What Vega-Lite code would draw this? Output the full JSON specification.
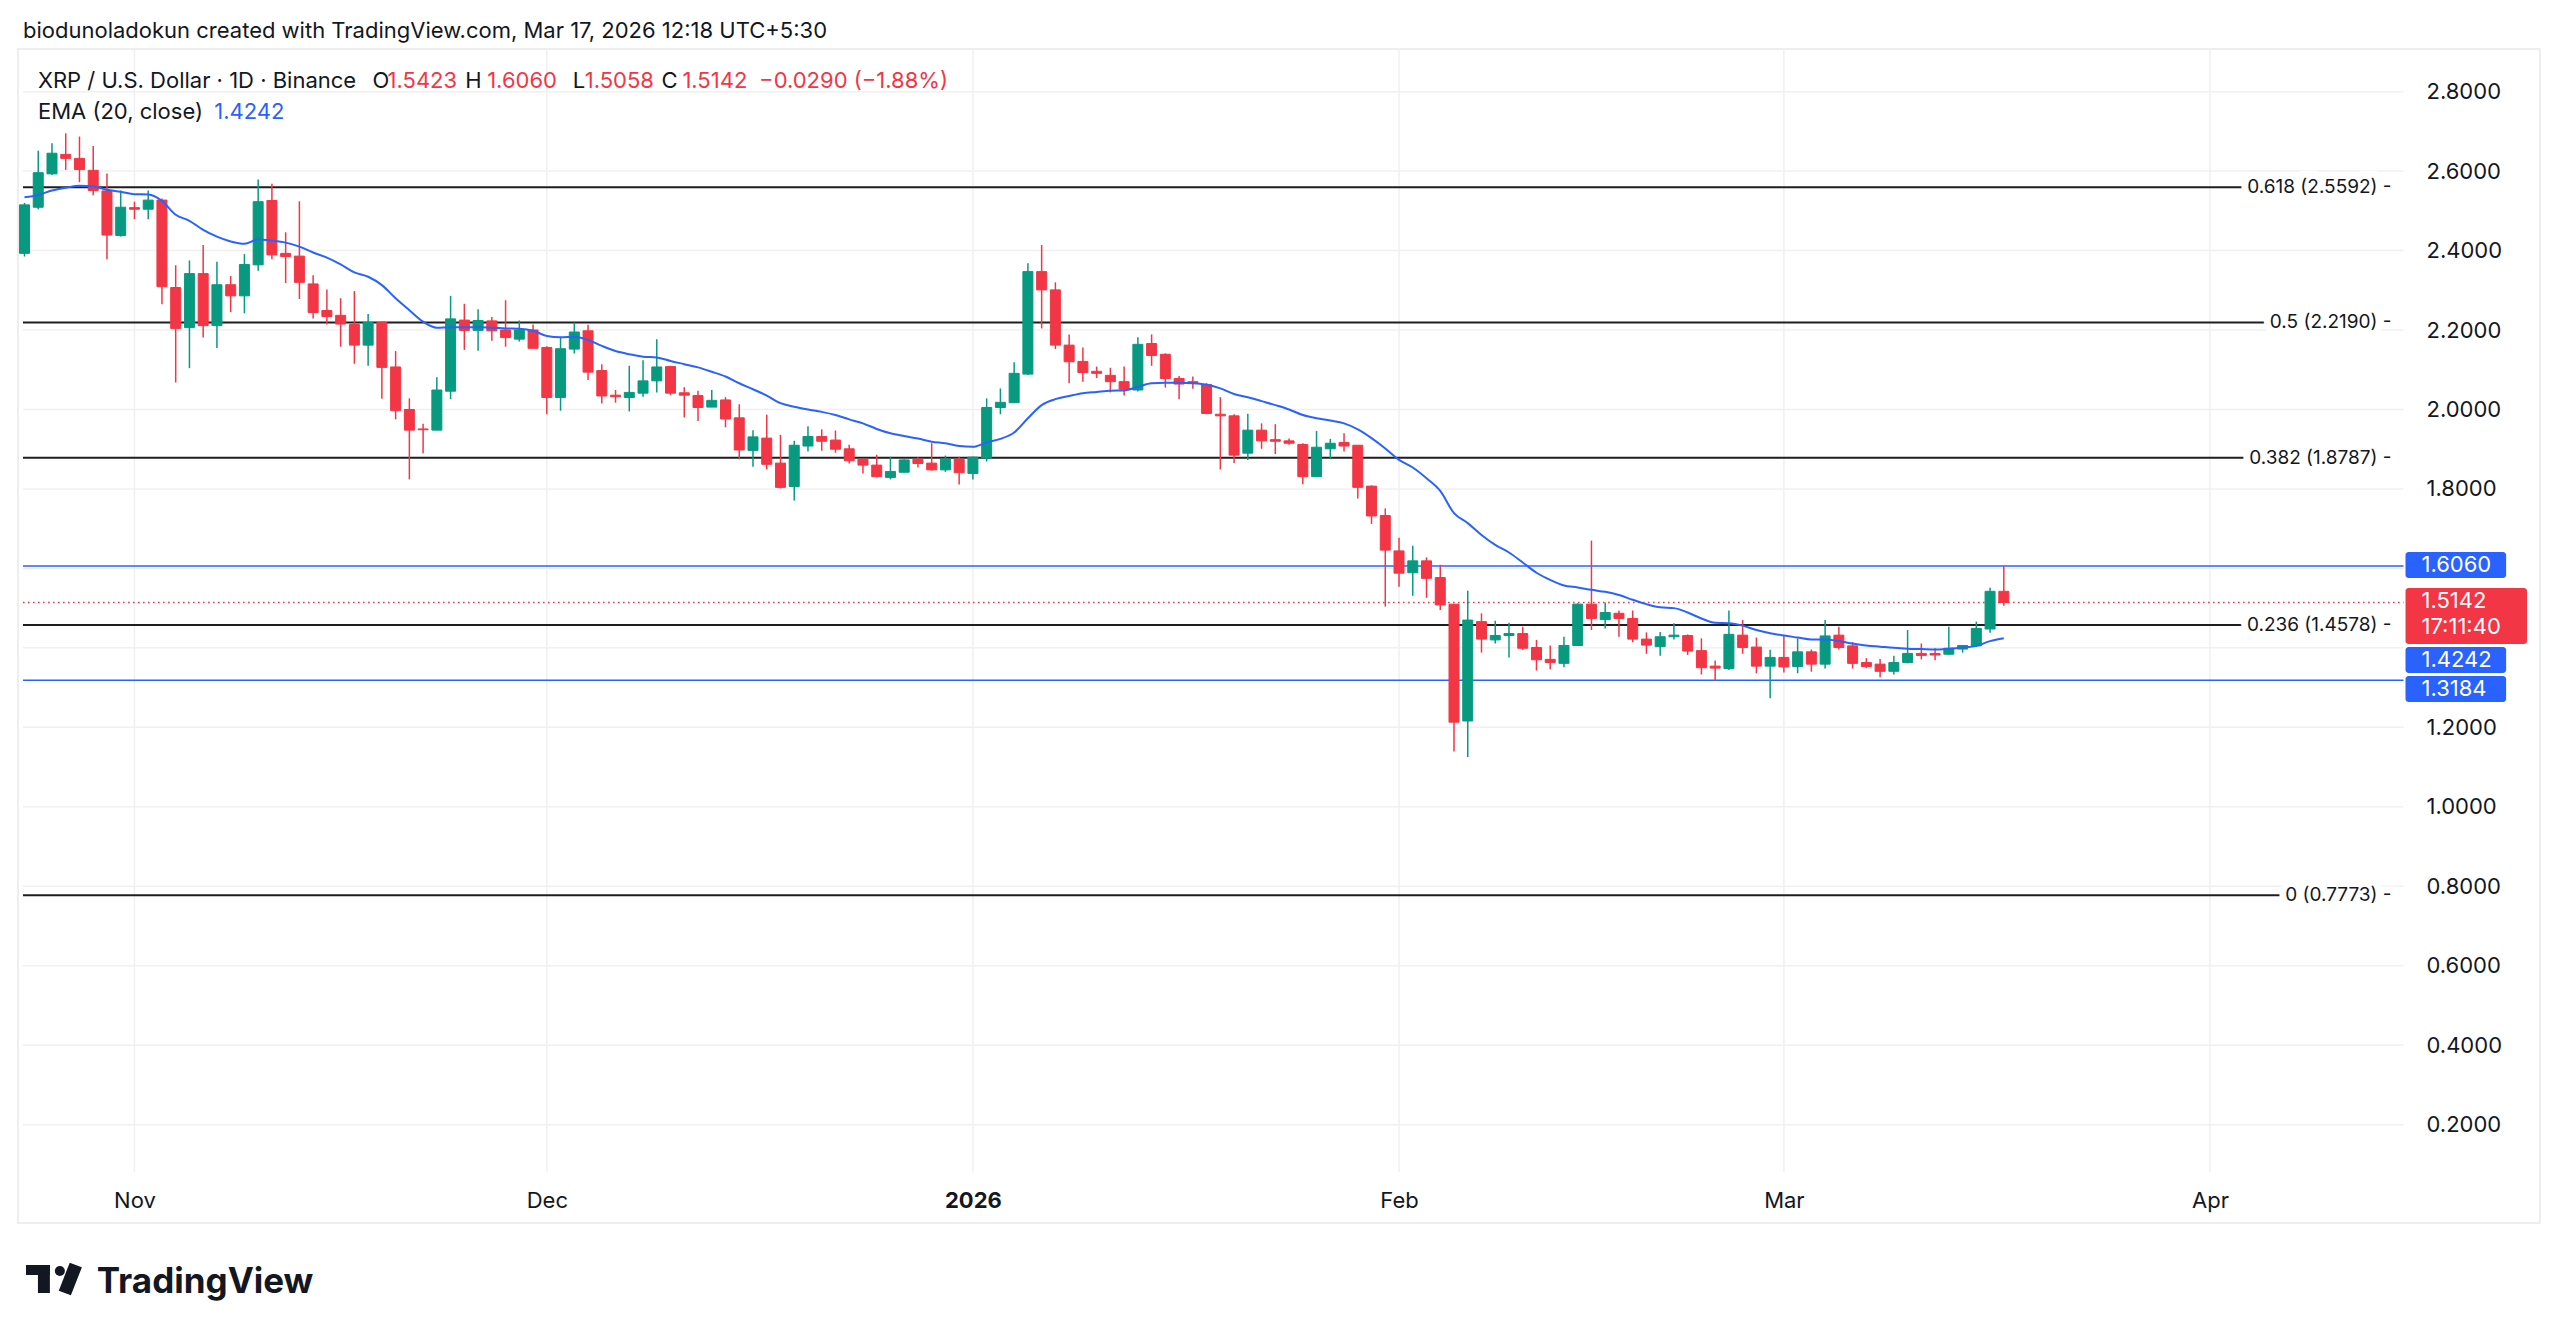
{
"$schema": "https://vega.github.io/schema/vega-lite/v6.json",
"width": 2522, "height": 1174,
"autosize": {"type": "none"},
"padding": {"left": 18, "top": 49, "right": 20, "bottom": 113},
"background": "#ffffff",
"config": {"font": "Inter", "view": {"stroke": "#e9e9e9", "strokeWidth": 1.5}, "axis": {"grid": false, "domain": false, "ticks": false}},
"datasets": {
"candles": [
{"date":"2025-10-24","o":2.393,"h":2.52,"l":2.385,"c":2.515,"ema":2.534},
{"date":"2025-10-25","o":2.509,"h":2.651,"l":2.504,"c":2.596,"ema":2.540},
{"date":"2025-10-26","o":2.593,"h":2.670,"l":2.590,"c":2.645,"ema":2.551},
{"date":"2025-10-27","o":2.642,"h":2.695,"l":2.603,"c":2.632,"ema":2.558},
{"date":"2025-10-28","o":2.632,"h":2.687,"l":2.572,"c":2.604,"ema":2.563},
{"date":"2025-10-29","o":2.602,"h":2.663,"l":2.539,"c":2.551,"ema":2.561},
{"date":"2025-10-30","o":2.550,"h":2.594,"l":2.378,"c":2.439,"ema":2.553},
{"date":"2025-10-31","o":2.438,"h":2.551,"l":2.435,"c":2.509,"ema":2.548},
{"date":"2025-11-01","o":2.508,"h":2.523,"l":2.479,"c":2.504,"ema":2.542},
{"date":"2025-11-02","o":2.504,"h":2.551,"l":2.479,"c":2.527,"ema":2.541},
{"date":"2025-11-03","o":2.527,"h":2.531,"l":2.265,"c":2.309,"ema":2.525},
{"date":"2025-11-04","o":2.307,"h":2.363,"l":2.068,"c":2.204,"ema":2.490},
{"date":"2025-11-05","o":2.206,"h":2.375,"l":2.104,"c":2.342,"ema":2.475},
{"date":"2025-11-06","o":2.342,"h":2.414,"l":2.181,"c":2.211,"ema":2.452},
{"date":"2025-11-07","o":2.211,"h":2.372,"l":2.155,"c":2.314,"ema":2.435},
{"date":"2025-11-08","o":2.314,"h":2.336,"l":2.245,"c":2.286,"ema":2.423},
{"date":"2025-11-09","o":2.286,"h":2.391,"l":2.242,"c":2.365,"ema":2.417},
{"date":"2025-11-10","o":2.364,"h":2.579,"l":2.349,"c":2.523,"ema":2.428},
{"date":"2025-11-11","o":2.526,"h":2.568,"l":2.378,"c":2.389,"ema":2.425},
{"date":"2025-11-12","o":2.393,"h":2.446,"l":2.318,"c":2.385,"ema":2.420},
{"date":"2025-11-13","o":2.386,"h":2.524,"l":2.278,"c":2.320,"ema":2.410},
{"date":"2025-11-14","o":2.316,"h":2.338,"l":2.229,"c":2.244,"ema":2.395},
{"date":"2025-11-15","o":2.249,"h":2.302,"l":2.214,"c":2.234,"ema":2.382},
{"date":"2025-11-16","o":2.237,"h":2.280,"l":2.158,"c":2.215,"ema":2.365},
{"date":"2025-11-17","o":2.214,"h":2.298,"l":2.115,"c":2.162,"ema":2.345},
{"date":"2025-11-18","o":2.162,"h":2.240,"l":2.110,"c":2.219,"ema":2.334},
{"date":"2025-11-19","o":2.219,"h":2.221,"l":2.027,"c":2.106,"ema":2.313},
{"date":"2025-11-20","o":2.107,"h":2.147,"l":1.975,"c":1.997,"ema":2.280},
{"date":"2025-11-21","o":2.000,"h":2.028,"l":1.824,"c":1.948,"ema":2.250},
{"date":"2025-11-22","o":1.951,"h":1.964,"l":1.890,"c":1.949,"ema":2.221},
{"date":"2025-11-23","o":1.948,"h":2.081,"l":1.948,"c":2.049,"ema":2.206},
{"date":"2025-11-24","o":2.046,"h":2.286,"l":2.026,"c":2.228,"ema":2.207},
{"date":"2025-11-25","o":2.225,"h":2.266,"l":2.150,"c":2.199,"ema":2.207},
{"date":"2025-11-26","o":2.199,"h":2.252,"l":2.148,"c":2.224,"ema":2.207},
{"date":"2025-11-27","o":2.223,"h":2.233,"l":2.173,"c":2.198,"ema":2.206},
{"date":"2025-11-28","o":2.200,"h":2.275,"l":2.158,"c":2.181,"ema":2.204},
{"date":"2025-11-29","o":2.177,"h":2.224,"l":2.171,"c":2.200,"ema":2.203},
{"date":"2025-11-30","o":2.200,"h":2.214,"l":2.154,"c":2.154,"ema":2.198},
{"date":"2025-12-01","o":2.156,"h":2.159,"l":1.988,"c":2.030,"ema":2.185},
{"date":"2025-12-02","o":2.030,"h":2.182,"l":1.997,"c":2.153,"ema":2.182},
{"date":"2025-12-03","o":2.152,"h":2.219,"l":2.141,"c":2.195,"ema":2.183},
{"date":"2025-12-04","o":2.198,"h":2.213,"l":2.074,"c":2.094,"ema":2.175},
{"date":"2025-12-05","o":2.098,"h":2.114,"l":2.015,"c":2.034,"ema":2.160},
{"date":"2025-12-06","o":2.036,"h":2.049,"l":2.017,"c":2.032,"ema":2.147},
{"date":"2025-12-07","o":2.030,"h":2.110,"l":1.995,"c":2.043,"ema":2.139},
{"date":"2025-12-08","o":2.041,"h":2.124,"l":2.032,"c":2.072,"ema":2.133},
{"date":"2025-12-09","o":2.072,"h":2.177,"l":2.043,"c":2.107,"ema":2.131},
{"date":"2025-12-10","o":2.108,"h":2.110,"l":2.036,"c":2.041,"ema":2.122},
{"date":"2025-12-11","o":2.042,"h":2.056,"l":1.980,"c":2.036,"ema":2.114},
{"date":"2025-12-12","o":2.035,"h":2.047,"l":1.971,"c":2.005,"ema":2.106},
{"date":"2025-12-13","o":2.006,"h":2.049,"l":2.006,"c":2.023,"ema":2.095},
{"date":"2025-12-14","o":2.024,"h":2.031,"l":1.955,"c":1.976,"ema":2.083},
{"date":"2025-12-15","o":1.979,"h":2.013,"l":1.875,"c":1.898,"ema":2.066},
{"date":"2025-12-16","o":1.897,"h":1.948,"l":1.856,"c":1.931,"ema":2.051},
{"date":"2025-12-17","o":1.928,"h":1.987,"l":1.849,"c":1.862,"ema":2.035},
{"date":"2025-12-18","o":1.865,"h":1.936,"l":1.801,"c":1.804,"ema":2.016},
{"date":"2025-12-19","o":1.806,"h":1.921,"l":1.771,"c":1.910,"ema":2.007},
{"date":"2025-12-20","o":1.908,"h":1.958,"l":1.894,"c":1.932,"ema":2.000},
{"date":"2025-12-21","o":1.932,"h":1.950,"l":1.896,"c":1.920,"ema":1.994},
{"date":"2025-12-22","o":1.923,"h":1.947,"l":1.891,"c":1.900,"ema":1.986},
{"date":"2025-12-23","o":1.901,"h":1.911,"l":1.864,"c":1.871,"ema":1.975},
{"date":"2025-12-24","o":1.875,"h":1.876,"l":1.839,"c":1.860,"ema":1.965},
{"date":"2025-12-25","o":1.860,"h":1.886,"l":1.829,"c":1.831,"ema":1.951},
{"date":"2025-12-26","o":1.829,"h":1.881,"l":1.824,"c":1.844,"ema":1.940},
{"date":"2025-12-27","o":1.842,"h":1.875,"l":1.842,"c":1.873,"ema":1.933},
{"date":"2025-12-28","o":1.875,"h":1.880,"l":1.854,"c":1.864,"ema":1.927},
{"date":"2025-12-29","o":1.865,"h":1.915,"l":1.846,"c":1.848,"ema":1.919},
{"date":"2025-12-30","o":1.848,"h":1.884,"l":1.843,"c":1.875,"ema":1.915},
{"date":"2025-12-31","o":1.875,"h":1.881,"l":1.811,"c":1.841,"ema":1.908},
{"date":"2026-01-01","o":1.839,"h":1.881,"l":1.824,"c":1.880,"ema":1.906},
{"date":"2026-01-02","o":1.878,"h":2.028,"l":1.869,"c":2.005,"ema":1.917},
{"date":"2026-01-03","o":2.005,"h":2.053,"l":1.988,"c":2.018,"ema":1.926},
{"date":"2026-01-04","o":2.017,"h":2.119,"l":2.017,"c":2.091,"ema":1.942},
{"date":"2026-01-05","o":2.089,"h":2.368,"l":2.087,"c":2.347,"ema":1.978},
{"date":"2026-01-06","o":2.347,"h":2.414,"l":2.204,"c":2.301,"ema":2.011},
{"date":"2026-01-07","o":2.301,"h":2.320,"l":2.152,"c":2.162,"ema":2.026},
{"date":"2026-01-08","o":2.162,"h":2.189,"l":2.066,"c":2.120,"ema":2.034},
{"date":"2026-01-09","o":2.121,"h":2.156,"l":2.070,"c":2.093,"ema":2.041},
{"date":"2026-01-10","o":2.096,"h":2.108,"l":2.079,"c":2.091,"ema":2.044},
{"date":"2026-01-11","o":2.086,"h":2.105,"l":2.043,"c":2.070,"ema":2.047},
{"date":"2026-01-12","o":2.070,"h":2.108,"l":2.035,"c":2.051,"ema":2.048},
{"date":"2026-01-13","o":2.049,"h":2.182,"l":2.045,"c":2.164,"ema":2.057},
{"date":"2026-01-14","o":2.166,"h":2.189,"l":2.110,"c":2.136,"ema":2.066},
{"date":"2026-01-15","o":2.139,"h":2.141,"l":2.055,"c":2.078,"ema":2.067},
{"date":"2026-01-16","o":2.078,"h":2.084,"l":2.026,"c":2.064,"ema":2.067},
{"date":"2026-01-17","o":2.070,"h":2.083,"l":2.052,"c":2.066,"ema":2.066},
{"date":"2026-01-18","o":2.063,"h":2.066,"l":1.988,"c":1.990,"ema":2.062},
{"date":"2026-01-19","o":1.988,"h":2.031,"l":1.849,"c":1.984,"ema":2.053},
{"date":"2026-01-20","o":1.984,"h":1.988,"l":1.865,"c":1.885,"ema":2.039},
{"date":"2026-01-21","o":1.890,"h":1.989,"l":1.873,"c":1.948,"ema":2.031},
{"date":"2026-01-22","o":1.948,"h":1.965,"l":1.901,"c":1.921,"ema":2.021},
{"date":"2026-01-23","o":1.924,"h":1.963,"l":1.888,"c":1.920,"ema":2.011},
{"date":"2026-01-24","o":1.921,"h":1.927,"l":1.911,"c":1.915,"ema":2.000},
{"date":"2026-01-25","o":1.912,"h":1.915,"l":1.812,"c":1.831,"ema":1.986},
{"date":"2026-01-26","o":1.831,"h":1.946,"l":1.831,"c":1.905,"ema":1.978},
{"date":"2026-01-27","o":1.901,"h":1.926,"l":1.875,"c":1.915,"ema":1.972},
{"date":"2026-01-28","o":1.917,"h":1.940,"l":1.894,"c":1.908,"ema":1.965},
{"date":"2026-01-29","o":1.910,"h":1.910,"l":1.776,"c":1.804,"ema":1.950},
{"date":"2026-01-30","o":1.807,"h":1.809,"l":1.712,"c":1.732,"ema":1.928},
{"date":"2026-01-31","o":1.733,"h":1.751,"l":1.504,"c":1.646,"ema":1.902},
{"date":"2026-02-01","o":1.644,"h":1.677,"l":1.554,"c":1.588,"ema":1.873},
{"date":"2026-02-02","o":1.589,"h":1.657,"l":1.531,"c":1.619,"ema":1.854},
{"date":"2026-02-03","o":1.619,"h":1.628,"l":1.526,"c":1.575,"ema":1.827},
{"date":"2026-02-04","o":1.577,"h":1.609,"l":1.495,"c":1.508,"ema":1.795},
{"date":"2026-02-05","o":1.510,"h":1.510,"l":1.139,"c":1.213,"ema":1.739},
{"date":"2026-02-06","o":1.216,"h":1.544,"l":1.125,"c":1.470,"ema":1.714},
{"date":"2026-02-07","o":1.466,"h":1.487,"l":1.388,"c":1.422,"ema":1.684},
{"date":"2026-02-08","o":1.420,"h":1.468,"l":1.411,"c":1.431,"ema":1.659},
{"date":"2026-02-09","o":1.431,"h":1.463,"l":1.376,"c":1.436,"ema":1.640},
{"date":"2026-02-10","o":1.436,"h":1.453,"l":1.395,"c":1.399,"ema":1.615},
{"date":"2026-02-11","o":1.401,"h":1.420,"l":1.343,"c":1.370,"ema":1.589},
{"date":"2026-02-12","o":1.371,"h":1.406,"l":1.346,"c":1.363,"ema":1.571},
{"date":"2026-02-13","o":1.361,"h":1.428,"l":1.351,"c":1.406,"ema":1.557},
{"date":"2026-02-14","o":1.406,"h":1.512,"l":1.405,"c":1.510,"ema":1.552},
{"date":"2026-02-15","o":1.510,"h":1.670,"l":1.445,"c":1.474,"ema":1.546},
{"date":"2026-02-16","o":1.471,"h":1.514,"l":1.449,"c":1.489,"ema":1.541},
{"date":"2026-02-17","o":1.487,"h":1.494,"l":1.428,"c":1.474,"ema":1.533},
{"date":"2026-02-18","o":1.474,"h":1.494,"l":1.414,"c":1.422,"ema":1.521},
{"date":"2026-02-19","o":1.422,"h":1.439,"l":1.385,"c":1.407,"ema":1.510},
{"date":"2026-02-20","o":1.403,"h":1.440,"l":1.380,"c":1.428,"ema":1.502},
{"date":"2026-02-21","o":1.428,"h":1.462,"l":1.421,"c":1.432,"ema":1.500},
{"date":"2026-02-22","o":1.431,"h":1.434,"l":1.382,"c":1.392,"ema":1.489},
{"date":"2026-02-23","o":1.393,"h":1.424,"l":1.333,"c":1.350,"ema":1.474},
{"date":"2026-02-24","o":1.354,"h":1.368,"l":1.318,"c":1.349,"ema":1.463},
{"date":"2026-02-25","o":1.348,"h":1.494,"l":1.344,"c":1.434,"ema":1.462},
{"date":"2026-02-26","o":1.432,"h":1.470,"l":1.385,"c":1.401,"ema":1.456},
{"date":"2026-02-27","o":1.402,"h":1.426,"l":1.336,"c":1.354,"ema":1.445},
{"date":"2026-02-28","o":1.354,"h":1.395,"l":1.273,"c":1.376,"ema":1.437},
{"date":"2026-03-01","o":1.376,"h":1.432,"l":1.338,"c":1.352,"ema":1.431},
{"date":"2026-03-02","o":1.353,"h":1.424,"l":1.336,"c":1.390,"ema":1.426},
{"date":"2026-03-03","o":1.390,"h":1.396,"l":1.340,"c":1.359,"ema":1.421},
{"date":"2026-03-04","o":1.359,"h":1.470,"l":1.348,"c":1.430,"ema":1.421},
{"date":"2026-03-05","o":1.432,"h":1.453,"l":1.396,"c":1.401,"ema":1.417},
{"date":"2026-03-06","o":1.405,"h":1.414,"l":1.348,"c":1.361,"ema":1.411},
{"date":"2026-03-07","o":1.363,"h":1.374,"l":1.349,"c":1.353,"ema":1.406},
{"date":"2026-03-08","o":1.359,"h":1.372,"l":1.326,"c":1.341,"ema":1.403},
{"date":"2026-03-09","o":1.341,"h":1.380,"l":1.333,"c":1.363,"ema":1.400},
{"date":"2026-03-10","o":1.363,"h":1.445,"l":1.361,"c":1.386,"ema":1.398},
{"date":"2026-03-11","o":1.386,"h":1.411,"l":1.371,"c":1.381,"ema":1.397},
{"date":"2026-03-12","o":1.386,"h":1.399,"l":1.369,"c":1.382,"ema":1.396},
{"date":"2026-03-13","o":1.384,"h":1.453,"l":1.382,"c":1.399,"ema":1.398},
{"date":"2026-03-14","o":1.397,"h":1.406,"l":1.388,"c":1.406,"ema":1.401},
{"date":"2026-03-15","o":1.405,"h":1.466,"l":1.403,"c":1.449,"ema":1.405},
{"date":"2026-03-16","o":1.4475,"h":1.551,"l":1.438,"c":1.5423,"ema":1.417},
{"date":"2026-03-17","o":1.5423,"h":1.6060,"l":1.5058,"c":1.5142,"ema":1.4242}
],
"hgrid": [{"v":0.2},{"v":0.4},{"v":0.6},{"v":0.8},{"v":1.0},{"v":1.2},{"v":1.4},{"v":1.6},{"v":1.8},{"v":2.0},{"v":2.2},{"v":2.4},{"v":2.6},{"v":2.8}],
"vgrid": [{"d":"2025-11-01"},{"d":"2025-12-01"},{"d":"2026-01-01"},{"d":"2026-02-01"},{"d":"2026-03-01"},{"d":"2026-04-01"}],
"fib": [{"price":2.5592,"label":"0.618 (2.5592) -"},{"price":2.219,"label":"0.5 (2.2190) -"},{"price":1.8787,"label":"0.382 (1.8787) -"},{"price":1.4578,"label":"0.236 (1.4578) -"},{"price":0.7773,"label":"0 (0.7773) -"}],
"hlines": [{"price":1.606},{"price":1.3184}],
"last": [{"price":1.5142}],
"one": [{}]
},
"layer": [
{"data": {"name": "vgrid"}, "mark": {"type": "rule", "color": "#f0f0f0", "strokeWidth": 1.5},
 "encoding": {
  "x": {"field": "d", "type": "temporal", "title": null, "scale": {"type": "utc", "domain": [1761254608696, 1777044521739]},
   "axis": {"orient": "bottom", "values": [{"year":2025,"month":"nov","date":1,"utc":true},{"year":2025,"month":"dec","date":1,"utc":true},{"year":2026,"month":"jan","date":1,"utc":true},{"year":2026,"month":"feb","date":1,"utc":true},{"year":2026,"month":"mar","date":1,"utc":true},{"year":2026,"month":"apr","date":1,"utc":true}],
    "labelExpr": "utcmonth(datum.value) == 0 ? utcFormat(datum.value, '%Y') : utcFormat(datum.value, '%b')",
    "labelFontWeight": {"condition": {"test": "utcmonth(datum.value) == 0", "value": "bold"}, "value": "normal"},
    "labelFontSize": 22, "labelColor": "#131722", "labelFont": "Inter", "labelBaseline": "middle", "labelPadding": -23, "labelOverlap": false, "labelFlush": false, "grid": false, "ticks": false, "domain": false}},
  "y": {"datum": 0.0808, "type": "quantitative"},
  "y2": {"datum": 2.9073}
 }},
{"data": {"name": "hgrid"}, "mark": {"type": "rule", "color": "#f0f0f0", "strokeWidth": 1.5},
 "encoding": {
  "y": {"field": "v", "type": "quantitative", "title": null, "scale": {"domain": [-0.0476, 2.9073], "nice": false, "zero": false},
   "axis": {"orient": "right", "values": [0.2,0.4,0.6,0.8,1.0,1.2,1.8,2.0,2.2,2.4,2.6,2.8], "format": ".4f", "labelFontSize": 22, "labelColor": "#131722", "labelFont": "Inter", "labelAlign": "left", "labelBaseline": "middle", "labelPadding": -114, "grid": false, "ticks": false, "domain": false, "labelOverlap": false, "labelFlush": false}},
  "x": {"datum": 1761254608696, "type": "temporal"},
  "x2": {"datum": 1776218086956}
 }},
{"data": {"name": "fib"}, "mark": {"type": "rule", "color": "#1e1e1e", "strokeWidth": 2},
 "encoding": {"y": {"field": "price", "type": "quantitative", "title": null}, "x": {"datum": 1761254608696, "type": "temporal"}, "x2": {"datum": 1776168000000}}},
{"data": {"name": "hlines"}, "mark": {"type": "rule", "color": "#2962FF", "strokeWidth": 1.6},
 "encoding": {"y": {"field": "price", "type": "quantitative", "title": null}, "x": {"datum": 1761254608696, "type": "temporal"}, "x2": {"datum": 1776218086956}}},
{"data": {"name": "last"}, "mark": {"type": "rule", "color": "#F23645", "strokeWidth": 1.6, "strokeDash": [1.6, 3.4]},
 "encoding": {"y": {"field": "price", "type": "quantitative", "title": null}, "x": {"datum": 1761254608696, "type": "temporal"}, "x2": {"datum": 1776218086956}}},
{"data": {"name": "candles"}, "mark": {"type": "rule", "strokeWidth": 1.5, "clip": true},
 "encoding": {
  "x": {"field": "date", "type": "temporal", "title": null},
  "y": {"field": "l", "type": "quantitative", "title": null},
  "y2": {"field": "h"},
  "color": {"condition": {"test": "datum.c >= datum.o", "value": "#089981"}, "value": "#F23645"}
 }},
{"data": {"name": "candles"}, "mark": {"type": "bar", "width": 10, "strokeWidth": 1, "clip": true},
 "encoding": {
  "x": {"field": "date", "type": "temporal", "title": null},
  "y": {"field": "o", "type": "quantitative", "title": null},
  "y2": {"field": "c"},
  "fill": {"condition": {"test": "datum.c >= datum.o", "value": "#089981"}, "value": "#F23645"},
  "stroke": {"condition": {"test": "datum.c >= datum.o", "value": "#089981"}, "value": "#F23645"}
 }},
{"data": {"name": "candles"}, "mark": {"type": "line", "color": "#2962FF", "strokeWidth": 2, "clip": true, "interpolate": "monotone"},
 "encoding": {
  "x": {"field": "date", "type": "temporal", "title": null},
  "y": {"field": "ema", "type": "quantitative", "title": null}
 }},
{"data": {"name": "fib"}, "mark": {"type": "text", "align": "right", "baseline": "middle", "fontSize": 19, "font": "Inter", "fill": "#ffffff", "stroke": "#ffffff", "strokeWidth": 14},
 "encoding": {"y": {"field": "price", "type": "quantitative", "title": null}, "x": {"datum": 1776142956522, "type": "temporal"}, "text": {"field": "label"}}},
{"data": {"name": "fib"}, "mark": {"type": "text", "align": "right", "baseline": "middle", "fontSize": 19, "font": "Inter", "color": "#131722"},
 "encoding": {"y": {"field": "price", "type": "quantitative", "title": null}, "x": {"datum": 1776142956522, "type": "temporal"}, "text": {"field": "label"}}},
{"data": {"name": "one"}, "mark": {"type": "rect", "color": "#2962FF", "cornerRadius": 3, "yOffset": -14, "y2Offset": 12},
 "encoding": {"x": {"datum": 1776230608696, "type": "temporal"}, "x2": {"datum": 1776862956522}, "y": {"datum": 1.606, "type": "quantitative"}, "y2": {"datum": 1.606}}},
{"data": {"name": "one"}, "mark": {"type": "rect", "color": "#F23645", "cornerRadius": 3, "yOffset": -14.5, "y2Offset": 41.5},
 "encoding": {"x": {"datum": 1776230608696, "type": "temporal"}, "x2": {"datum": 1776994434783}, "y": {"datum": 1.5142, "type": "quantitative"}, "y2": {"datum": 1.5142}}},
{"data": {"name": "one"}, "mark": {"type": "rect", "color": "#2962FF", "cornerRadius": 3, "yOffset": 8.7, "y2Offset": 34.7},
 "encoding": {"x": {"datum": 1776230608696, "type": "temporal"}, "x2": {"datum": 1776862956522}, "y": {"datum": 1.4242, "type": "quantitative"}, "y2": {"datum": 1.4242}}},
{"data": {"name": "one"}, "mark": {"type": "rect", "color": "#2962FF", "cornerRadius": 3, "yOffset": -4.3, "y2Offset": 21.7},
 "encoding": {"x": {"datum": 1776230608696, "type": "temporal"}, "x2": {"datum": 1776862956522}, "y": {"datum": 1.3184, "type": "quantitative"}, "y2": {"datum": 1.3184}}},
{"data": {"name": "one"}, "mark": {"type": "text", "align": "left", "baseline": "middle", "fontSize": 22, "font": "Inter", "color": "#ffffff", "dy": -1},
 "encoding": {"x": {"datum": 1776330782609, "type": "temporal"}, "y": {"datum": 1.606, "type": "quantitative"}, "text": {"value": "1.6060"}}},
{"data": {"name": "one"}, "mark": {"type": "text", "align": "left", "baseline": "middle", "fontSize": 22, "font": "Inter", "color": "#ffffff", "dy": -1.5, "lineHeight": 26},
 "encoding": {"x": {"datum": 1776330782609, "type": "temporal"}, "y": {"datum": 1.5142, "type": "quantitative"}, "text": {"value": ["1.5142", "17:11:40"]}}},
{"data": {"name": "one"}, "mark": {"type": "text", "align": "left", "baseline": "middle", "fontSize": 22, "font": "Inter", "color": "#ffffff", "dy": 21.7},
 "encoding": {"x": {"datum": 1776330782609, "type": "temporal"}, "y": {"datum": 1.4242, "type": "quantitative"}, "text": {"value": "1.4242"}}},
{"data": {"name": "one"}, "mark": {"type": "text", "align": "left", "baseline": "middle", "fontSize": 22, "font": "Inter", "color": "#ffffff", "dy": 8.7},
 "encoding": {"x": {"datum": 1776330782609, "type": "temporal"}, "y": {"datum": 1.3184, "type": "quantitative"}, "text": {"value": "1.3184"}}},
{"data": {"name": "one"}, "mark": {"type": "text", "align": "left", "baseline": "middle", "fontSize": 22, "font": "Inter", "color": "#131722"},
 "encoding": {"x": {"datum": 1761254608696, "type": "temporal"}, "y": {"datum": 2.9527, "type": "quantitative"}, "text": {"value": "biodunoladokun created with TradingView.com, Mar 17, 2026 12:18 UTC+5:30"}}},
{"data": {"name": "one"}, "mark": {"type": "text", "align": "left", "baseline": "middle", "fontSize": 22, "font": "Inter", "color": "#131722"},
 "encoding": {"x": {"datum": 1761348521740, "type": "temporal"}, "y": {"datum": 2.8269, "type": "quantitative"}, "text": {"value": "XRP / U.S. Dollar · 1D · Binance"}}},
{"data": {"name": "one"}, "mark": {"type": "text", "align": "left", "baseline": "middle", "fontSize": 22, "font": "Inter", "color": "#131722"},
 "encoding": {"x": {"datum": 1763452173913, "type": "temporal"}, "y": {"datum": 2.8269, "type": "quantitative"}, "text": {"value": "O"}}},
{"data": {"name": "one"}, "mark": {"type": "text", "align": "left", "baseline": "middle", "fontSize": 22, "font": "Inter", "color": "#F23645"},
 "encoding": {"x": {"datum": 1763546086957, "type": "temporal"}, "y": {"datum": 2.8269, "type": "quantitative"}, "text": {"value": "1.5423"}}},
{"data": {"name": "one"}, "mark": {"type": "text", "align": "left", "baseline": "middle", "fontSize": 22, "font": "Inter", "color": "#131722"},
 "encoding": {"x": {"datum": 1764034434782, "type": "temporal"}, "y": {"datum": 2.8269, "type": "quantitative"}, "text": {"value": "H"}}},
{"data": {"name": "one"}, "mark": {"type": "text", "align": "left", "baseline": "middle", "fontSize": 22, "font": "Inter", "color": "#F23645"},
 "encoding": {"x": {"datum": 1764172173913, "type": "temporal"}, "y": {"datum": 2.8269, "type": "quantitative"}, "text": {"value": "1.6060"}}},
{"data": {"name": "one"}, "mark": {"type": "text", "align": "left", "baseline": "middle", "fontSize": 22, "font": "Inter", "color": "#131722"},
 "encoding": {"x": {"datum": 1764710608696, "type": "temporal"}, "y": {"datum": 2.8269, "type": "quantitative"}, "text": {"value": "L"}}},
{"data": {"name": "one"}, "mark": {"type": "text", "align": "left", "baseline": "middle", "fontSize": 22, "font": "Inter", "color": "#F23645"},
 "encoding": {"x": {"datum": 1764785739131, "type": "temporal"}, "y": {"datum": 2.8269, "type": "quantitative"}, "text": {"value": "1.5058"}}},
{"data": {"name": "one"}, "mark": {"type": "text", "align": "left", "baseline": "middle", "fontSize": 22, "font": "Inter", "color": "#131722"},
 "encoding": {"x": {"datum": 1765267826087, "type": "temporal"}, "y": {"datum": 2.8269, "type": "quantitative"}, "text": {"value": "C"}}},
{"data": {"name": "one"}, "mark": {"type": "text", "align": "left", "baseline": "middle", "fontSize": 22, "font": "Inter", "color": "#F23645"},
 "encoding": {"x": {"datum": 1765399304348, "type": "temporal"}, "y": {"datum": 2.8269, "type": "quantitative"}, "text": {"value": "1.5142"}}},
{"data": {"name": "one"}, "mark": {"type": "text", "align": "left", "baseline": "middle", "fontSize": 22, "font": "Inter", "color": "#F23645"},
 "encoding": {"x": {"datum": 1765881391305, "type": "temporal"}, "y": {"datum": 2.8269, "type": "quantitative"}, "text": {"value": "−0.0290 (−1.88%)"}}},
{"data": {"name": "one"}, "mark": {"type": "text", "align": "left", "baseline": "middle", "fontSize": 22, "font": "Inter", "color": "#131722"},
 "encoding": {"x": {"datum": 1761348521740, "type": "temporal"}, "y": {"datum": 2.7489, "type": "quantitative"}, "text": {"value": "EMA (20, close)"}}},
{"data": {"name": "one"}, "mark": {"type": "text", "align": "left", "baseline": "middle", "fontSize": 22, "font": "Inter", "color": "#2962FF"},
 "encoding": {"x": {"datum": 1762456695653, "type": "temporal"}, "y": {"datum": 2.7489, "type": "quantitative"}, "text": {"value": "1.4242"}}},
{"data": {"name": "one"}, "mark": {"type": "rect", "color": "#131722"},
 "encoding": {"x": {"datum": 1761273391305, "type": "temporal"}, "x2": {"datum": 1761423652174}, "y": {"datum": -0.1533, "type": "quantitative"}, "y2": {"datum": -0.1785}}},
{"data": {"name": "one"}, "mark": {"type": "rect", "color": "#131722"},
 "encoding": {"x": {"datum": 1761348521740, "type": "temporal"}, "x2": {"datum": 1761423652174}, "y": {"datum": -0.1533, "type": "quantitative"}, "y2": {"datum": -0.2238}}},
{"data": {"name": "one"}, "mark": {"type": "point", "shape": "circle", "filled": true, "opacity": 1, "size": 100, "color": "#131722"},
 "encoding": {"x": {"datum": 1761486260870, "type": "temporal"}, "y": {"datum": -0.1684, "type": "quantitative"}}},
{"data": {"name": "one"}, "mark": {"type": "rule", "color": "#131722", "strokeWidth": 13, "strokeCap": "butt"},
 "encoding": {"x": {"datum": 1761586434783, "type": "temporal"}, "x2": {"datum": 1761517565218}, "y": {"datum": -0.1533, "type": "quantitative"}, "y2": {"datum": -0.2238}}},
{"data": {"name": "one"}, "mark": {"type": "text", "align": "left", "baseline": "alphabetic", "fontSize": 35, "fontWeight": "bold", "font": "Inter", "color": "#131722"},
 "encoding": {"x": {"datum": 1761717913044, "type": "temporal"}, "y": {"datum": -0.2238, "type": "quantitative"}, "text": {"value": "TradingView"}}}
]
}
